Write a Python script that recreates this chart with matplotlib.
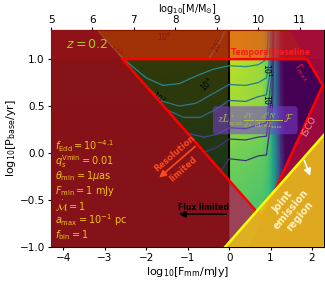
import numpy as np
import matplotlib.pyplot as plt

# Background field (viridis fraction)
x_grid = [-4.3, 0.0, 0.4, 0.8, 0.95, 1.05, 1.15, 1.25, 1.35, 2.3]
y_grid = [-1.0, -0.5, 0.0, 0.5, 1.0, 1.31]
field = [
    [0.74, 0.74, 0.72, 0.70, 0.66, 0.58, 0.40, 0.16, 0.02, 0.0],
    [0.75, 0.75, 0.74, 0.72, 0.68, 0.60, 0.42, 0.18, 0.02, 0.0],
    [0.79, 0.79, 0.78, 0.76, 0.72, 0.60, 0.40, 0.15, 0.02, 0.0],
    [0.86, 0.86, 0.85, 0.83, 0.76, 0.55, 0.32, 0.08, 0.0, 0.0],
    [0.90, 0.90, 0.88, 0.85, 0.74, 0.48, 0.26, 0.05, 0.0, 0.0],
    [0.90, 0.90, 0.88, 0.85, 0.74, 0.48, 0.26, 0.05, 0.0, 0.0],
]

# contour curves (x, y)
contours = [
    ([-3.2, -2.55, -2.0, -1.6, -1.2, -0.8, -0.4, 0.0, 0.4, 0.7, 0.85, 0.92, 0.95],
     [1.31, 1.0, 0.80, 0.72, 0.74, 0.82, 0.89, 0.93, 0.92, 0.94, 0.98, 1.1, 1.31], '#23898e'),
    ([-2.0, -1.6, -1.2, -0.8, -0.4, 0.0, 0.4, 0.7, 0.9, 0.98, 1.0],
     [0.71, 0.55, 0.50, 0.53, 0.63, 0.73, 0.72, 0.75, 0.80, 1.0, 1.31], '#2a788e'),
    ([-1.5, -1.1, -0.7, -0.3, 0.0, 0.4, 0.7, 0.9, 1.0, 1.02],
     [0.46, 0.38, 0.38, 0.47, 0.56, 0.55, 0.60, 0.62, 0.9, 1.31], '#31688e'),
    ([-1.0, -0.6, -0.3, 0.0, 0.4, 0.7, 0.9, 1.02, 1.05],
     [0.21, 0.17, 0.20, 0.27, 0.26, 0.30, 0.32, 0.8, 1.31], '#3e4989'),
    ([-0.6, -0.3, 0.0, 0.4, 0.7, 0.9, 1.03, 1.06],
     [0.01, 0.06, 0.15, 0.14, 0.17, 0.18, 0.6, 1.31], '#453581'),
    ([-0.2, 0.0, 0.4, 0.7, 0.9, 1.05, 1.08],
     [-0.19, -0.06, -0.08, -0.03, -0.02, 0.5, 1.31], '#46307a'),
    ([-0.5, -0.35, -0.2, -0.1],
     [1.0, 1.1, 1.2, 1.31], '#2a788e'),
]
contour_labels = [
    (-1.55, 1.24, '$10^6$', 0), (-0.27, 1.15, '$10^5$', 58),
    (-0.53, 0.73, '$10^4$', 45), (-1.71, 0.59, '$10^2$', -40),
    (-2.75, 1.07, '$10^3$', -35), (0.93, 0.88, '$10^1$', -90),
    (0.93, 0.55, '$10^0$', -90),
]

# exclusion regions
flux_x, flux_y = [-4.3, 0.0, 0.0, -4.3], [-1.0, -1.0, 1.31, 1.31]
base_x, base_y = [-4.3, 2.29, 2.29, -4.3], [1.0, 1.0, 1.31, 1.31]
res_x, res_y = [-4.3, 0.0, 0.0, -2.58, -3.2, -4.3], [-1.0, -1.0, -0.29, 1.0, 1.31, 1.31]
res2_x, res2_y = [0.0, 0.8, 0.474, 0.0], [-0.29, -0.69, -1.0, -1.0]
isco_x = [0.474, 2.29, 2.29, 1.46, 1.88, 2.26]
isco_y = [-1.0, -1.0, 1.31, 1.31, 1.0, 0.72]
allowed_x = [-2.58, 1.88, 2.26, 0.80, -2.58]
allowed_y = [1.0, 1.0, 0.72, -0.69, 1.0]
joint_x, joint_y = [-0.1, 2.29, 2.29], [-1.0, 0.195, -1.0]

params = [r'$f_{\rm Edd}=10^{-4.1}$', r'$q_s^{\rm Vmin}=0.01$', r'$\theta_{\rm min}=1\mu$as',
          r'$F_{\rm min}=1$ mJy', r'$\dot{\mathcal{M}}=1$', r'$a_{\rm max}=10^{-1}$ pc',
          r'$f_{\rm bin}=1$']

fig = plt.figure(figsize=(3.25, 2.88), dpi=100)
ax = fig.add_axes([0.157, 0.142, 0.84, 0.754])

ax.pcolormesh(x_grid, y_grid, np.array(field), shading='gouraud', cmap='viridis',
              vmin=0, vmax=1, zorder=0)
ax.fill(flux_x, flux_y, color='black', alpha=0.74, lw=0, zorder=1)
ax.axvline(0, color='black', lw=1.5, zorder=2)
for cx, cy, cc in contours:
    ax.plot(cx, cy, color=cc, lw=0.9, zorder=2)
for lx, ly, lt, rot in contour_labels:
    ax.text(lx, ly, lt, fontsize=5.5, rotation=rot, ha='center', va='center', zorder=2)

ax.fill(base_x, base_y, color='#ff2a05', alpha=0.55, lw=0, zorder=3)
ax.fill(res_x, res_y, color='#8e1019', alpha=0.93, lw=0, zorder=4)
ax.fill(res2_x, res2_y, color='#9b4256', lw=0, zorder=4)
ax.fill(isco_x, isco_y, color='#a50c3c', alpha=0.9, lw=0, zorder=4)
ax.plot(allowed_x, allowed_y, color='red', lw=1.8, zorder=5)
ax.fill(joint_x, joint_y, color='#e8c01a', alpha=0.88, lw=0, zorder=6)
ax.plot(joint_x[:2], joint_y[:2], color='yellow', lw=1.8, zorder=6)

# annotations
ax.text(-3.95, 1.15, '$z=0.2$', color='#a0d020', fontsize=9, va='center', zorder=8)
ax.text(1.95, 1.025, 'Temporal baseline', color='#ff1a1a', fontsize=5.5,
        fontweight='bold', ha='right', va='bottom', zorder=8)
ax.text(1.75, 0.86, r'$\Gamma_{\rm max}$', color='#ff2020', fontsize=6, rotation=-55,
        ha='center', va='center', zorder=8)
ax.text(1.93, 0.28, 'ISCO', color='#ff9090', fontsize=6.5, rotation=62,
        ha='center', va='center', zorder=8)
ax.text(0.63, 0.35, r'$zL^{*}_{\rm mm}\,\frac{dV}{dz}\,\frac{d^2N}{dV\,dL_{\rm mm}}\,\mathcal{F}$',
        color='#b0c040', fontsize=7.5, ha='center', va='center', math_fontfamily='cm',
        bbox=dict(boxstyle='round,pad=0.35', fc='#7a3fd0', ec='none', alpha=0.55), zorder=8)

ax.annotate('', xy=(-1.74, -0.28), xytext=(-0.77, 0.09),
            arrowprops=dict(arrowstyle='-|>', color='#ff4a1a', lw=1.2), zorder=8)
ax.text(-1.32, 0.0, 'Resolution', color='#ff4a1a', fontsize=6, fontweight='bold',
        rotation=41, ha='center', va='center', zorder=8)
ax.text(-1.12, -0.17, 'limited', color='#ff4a1a', fontsize=6, fontweight='bold',
        rotation=41, ha='center', va='center', zorder=8)

ax.annotate('', xy=(-1.28, -0.65), xytext=(0.0, -0.65),
            arrowprops=dict(arrowstyle='-|>', color='black', lw=1.0), zorder=8)
ax.text(-0.62, -0.58, 'Flux limited', color='black', fontsize=5.5, fontweight='bold',
        ha='center', va='center', zorder=8)

ax.annotate('', xy=(1.98, -0.27), xytext=(1.79, -0.05),
            arrowprops=dict(arrowstyle='-|>', color='white', lw=1.2), zorder=8)
ax.text(1.5, -0.6, 'Joint\nemission\nregion', color='#fff3c0', fontsize=7,
        fontweight='bold', rotation=50, ha='center', va='center', linespacing=1.1,
        multialignment='center', zorder=8)

for i, p in enumerate(params):
    ax.text(-4.2, 0.07 - 0.157 * i, p, color='#f0c414', fontsize=7, va='center', zorder=8)

ax.set_xlim(-4.3, 2.29)
ax.set_ylim(-1.0, 1.31)
ax.set_xticks([-4, -3, -2, -1, 0, 1, 2])
ax.set_yticks([-1.0, -0.5, 0.0, 0.5, 1.0])
ax.tick_params(labelsize=7.5, pad=2, length=2.5)
ax.set_xlabel(r'log$_{10}$[F$_{\rm mm}$/mJy]', fontsize=8, labelpad=1)
ax.set_ylabel(r'log$_{10}$[P$_{\rm base}$/yr]', fontsize=8, labelpad=1)

top = ax.secondary_xaxis('top', functions=(lambda x: x + 9.3, lambda m: m - 9.3))
top.set_xticks([5, 6, 7, 8, 9, 10, 11])
top.tick_params(labelsize=7.5, pad=1, length=2.5)
top.set_xlabel(r'log$_{10}$[M/M$_{\odot}$]', fontsize=7, labelpad=2)

fig.savefig('out.png', dpi=100)
